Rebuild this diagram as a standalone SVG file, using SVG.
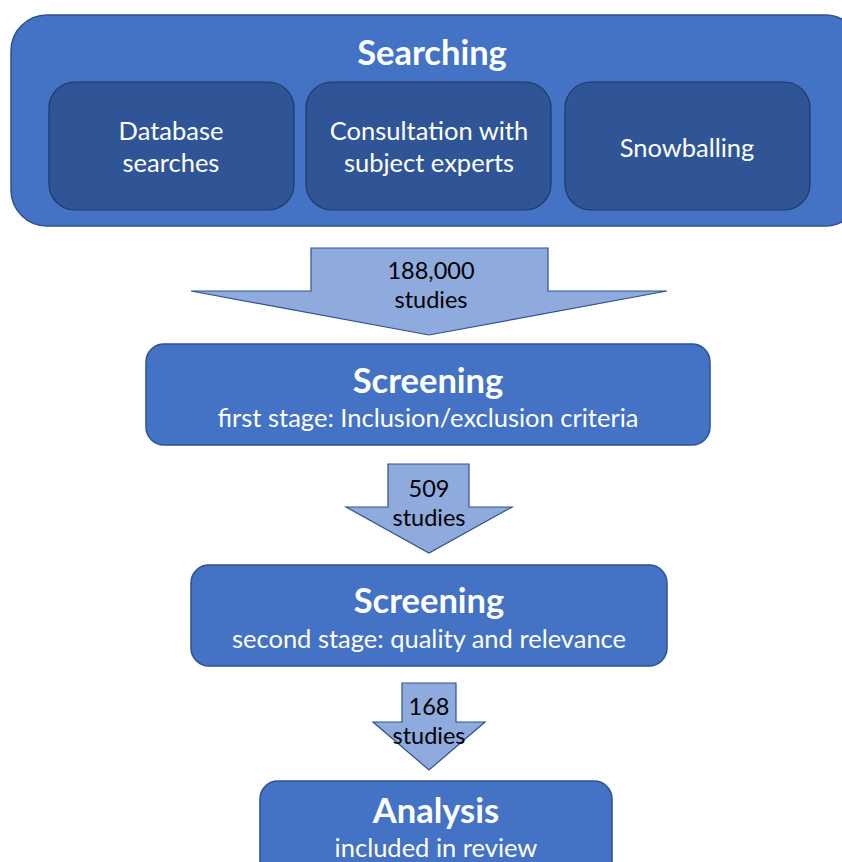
<svg xmlns="http://www.w3.org/2000/svg" width="842" height="862" viewBox="0 0 842 862">
  <style>
    .stage { fill: #4472C4; stroke: #2F528F; stroke-width: 1.5; }
    .sub { fill: #2F5597; stroke: #1F3864; stroke-width: 1.2; }
    .arrow { fill: #8FAADC; stroke: #2F528F; stroke-width: 1.2; }
    text { font-family: Lato, "Open Sans", "Liberation Sans", sans-serif; text-anchor: middle; }
    .title { fill: #FFFFFF; font-weight: bold; font-size: 34.5px; }
    .label { fill: #FFFFFF; font-size: 25.5px; }
    .count { fill: #000000; font-size: 23.5px; }
  </style>

  <!-- Searching stage with its three sources -->
  <g id="searching">
    <rect class="stage" x="11" y="15" width="850" height="211" rx="36" ry="36"/>
    <text class="title" x="432" y="65">Searching</text>
  </g>
  <g id="database-searches">
    <rect class="sub" x="49" y="82" width="245" height="128" rx="26" ry="26"/>
    <text class="label" x="171" y="140">Database</text>
    <text class="label" x="171" y="172">searches</text>
  </g>
  <g id="subject-experts">
    <rect class="sub" x="306" y="82" width="245" height="128" rx="26" ry="26"/>
    <text class="label" x="429" y="140">Consultation with</text>
    <text class="label" x="429" y="172">subject experts</text>
  </g>
  <g id="snowballing">
    <rect class="sub" x="565" y="82" width="245" height="128" rx="26" ry="26"/>
    <text class="label" x="687" y="157">Snowballing</text>
  </g>

  <!-- Flow arrows with study counts -->
  <g id="connectors">
    <g id="flow-188000">
      <polygon class="arrow" points="311,248 548,248 548,291 667,291 429,335 191,291 311,291"/>
      <text class="count" x="431" y="279">188,000</text>
      <text class="count" x="431" y="308">studies</text>
    </g>
    <g id="flow-509">
      <polygon class="arrow" points="388,464 469,464 469,507 512,507 429,553 346,507 388,507"/>
      <text class="count" x="429" y="497">509</text>
      <text class="count" x="429" y="526">studies</text>
    </g>
    <g id="flow-168">
      <polygon class="arrow" points="402,683 456,683 456,722 485,722 429,770 373,722 402,722"/>
      <text class="count" x="429" y="715">168</text>
      <text class="count" x="429" y="744">studies</text>
    </g>
  </g>

  <g id="screening-first">
    <rect class="stage" x="146" y="344" width="564" height="101" rx="18" ry="18"/>
    <text class="title" x="428" y="393">Screening</text>
    <text class="label" x="428" y="427">first stage: Inclusion/exclusion criteria</text>
  </g>

  <g id="screening-second">
    <rect class="stage" x="191" y="565" width="476" height="101" rx="18" ry="18"/>
    <text class="title" x="429" y="613">Screening</text>
    <text class="label" x="429" y="648">second stage: quality and relevance</text>
  </g>

  <g id="analysis">
    <rect class="stage" x="260" y="781" width="352" height="100" rx="18" ry="18"/>
    <text class="title" x="436" y="823">Analysis</text>
    <text class="label" x="436" y="857">included in review</text>
  </g>
</svg>
